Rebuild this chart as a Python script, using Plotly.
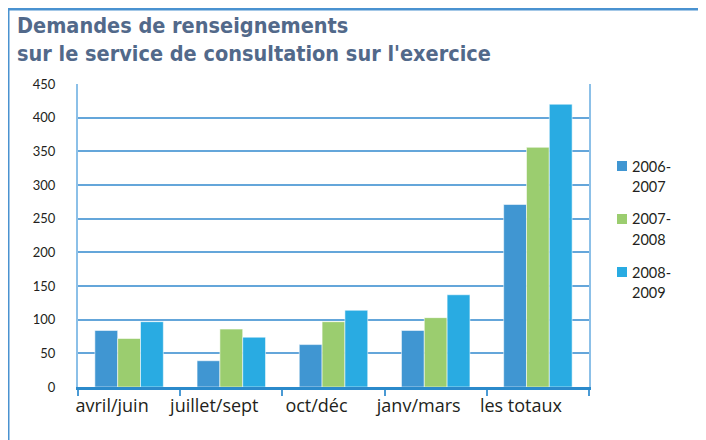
import plotly.graph_objects as go

categories = ["avril/juin", "juillet/sept", "oct/déc", "janv/mars", "les totaux"]
series_names = ["2006-<br>2007", "2007-<br>2008", "2008-<br>2009"]
values_2006_2007 = [84, 39, 63, 84, 271]
values_2007_2008 = [72, 86, 97, 103, 356]
values_2008_2009 = [97, 74, 114, 137, 420]
y_ticks = [0, 50, 100, 150, 200, 250, 300, 350, 400, 450]
colors = ["#4096D2", "#9BCD6F", "#29ABE2"]

fig = go.Figure()
for i, (name, vals) in enumerate(zip(series_names,
                                     [values_2006_2007, values_2007_2008, values_2008_2009])):
    fig.add_trace(go.Bar(
        x=categories, y=vals, name=name, showlegend=False,
        marker=dict(color=colors[i], line=dict(color="rgba(255,255,255,0.55)", width=1)),
    ))

# page body has an 8px margin: figure pixel = reference pixel - 8
OFF = 8
FW, FH = 706 - OFF, 440 - OFF
# plot area in reference pixels: x 78..589, y 84..387
L, R, T, B = 78 - OFF, 589 - OFF, 84 - OFF, 387 - OFF
W, H = R - L, B - T
def px(x):
    return (x - OFF - L) / W
def py(y):
    return (B - (y - OFF)) / H

fig.add_shape(type="rect", xref="paper", yref="paper",
              x0=px(8), x1=px(740), y0=py(470), y1=py(9),
              fillcolor="white", line=dict(color="#4A92D0", width=3), layer="below")

fig.add_annotation(
    xref="paper", yref="paper", x=px(15), y=py(11), xanchor="left", yanchor="top",
    text="<b>Demandes de renseignements<br>sur le service de consultation sur l'exercice</b>",
    showarrow=False, align="left",
    font=dict(family="DejaVu Sans Condensed", size=21.5, color="#52698A"),
)

# custom legend (square + two-line label)
legend_top = 166
legend_step = 53
for i, name in enumerate(series_names):
    yc = legend_top + i * legend_step
    fig.add_shape(type="rect", xref="paper", yref="paper",
                  x0=px(617), x1=px(627), y0=py(yc + 5), y1=py(yc - 5),
                  fillcolor=colors[i], line=dict(width=0))
    for j, part in enumerate(name.split("<br>")):
        fig.add_annotation(
            xref="paper", yref="paper", x=px(630), y=py(yc + j * 20),
            xanchor="left", yanchor="middle", text=part, showarrow=False,
            font=dict(family="Lato", size=14.5, color="#231F20"),
        )

fig.update_layout(
    width=FW, height=FH,
    margin=dict(l=L, r=FW - R, t=T, b=FH - B, autoexpand=False),
    paper_bgcolor="#FDEBCD", plot_bgcolor="white",
    barmode="group", bargap=0.33, bargroupgap=0,
    font=dict(family="Lato", color="#231F20"),
    showlegend=False,
)
fig.update_xaxes(
    showline=True, linecolor="#2B8ACB", linewidth=3,
    ticks="outside", tickson="boundaries", ticklen=6, tickcolor="#4A9AD4", tickwidth=2,
    tickfont=dict(family="Open Sans", size=18, color="#231F20"), ticklabelshift=-17,
    showgrid=False,
)
fig.update_yaxes(
    range=[0, 450], tickvals=y_ticks, showgrid=True, gridcolor="#64A6DA", gridwidth=1.5,
    zeroline=False, showline=True, linecolor="#8CC0E8", linewidth=2, mirror=True,
    tickfont=dict(size=13, color="#231F20"), ticks="", ticklabelstandoff=18,
)

fig.write_html("out.html")
